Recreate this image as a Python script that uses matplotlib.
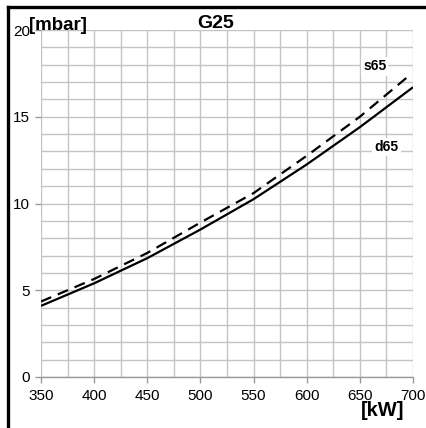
import matplotlib
matplotlib.use("Agg")
import matplotlib.pyplot as plt
from matplotlib.lines import Line2D

# -----------------------------
# Data
# -----------------------------

power_d65 = [350, 400, 450, 500, 550, 600, 650, 700]
pressure_d65 = [4.1, 5.4, 6.85, 8.5, 10.25, 12.25, 14.4, 16.7]

power_s65 = [350, 400, 450, 500, 550, 600, 650, 695]
pressure_s65 = [4.35, 5.65, 7.15, 8.9, 10.6, 12.75, 15.0, 17.3]

x_ticks = [350, 400, 450, 500, 550, 600, 650, 700]
y_ticks = [0, 5, 10, 15, 20]

# -----------------------------
# Style
# -----------------------------

plt.rcParams.update({
    "font.family": ["Liberation Sans", "DejaVu Sans"],
    "font.size": 11,
})

fig = plt.figure(figsize=(4.27, 4.28), dpi=100)
ax = fig.add_axes([41 / 427, 51 / 428, 372 / 427, 347 / 428])

# grid
ax.set_xlim(350, 700)
ax.set_ylim(0, 20)
ax.set_xticks(x_ticks)
ax.set_yticks(y_ticks)
ax.set_xticks(range(350, 701, 25), minor=True)
ax.set_yticks(range(0, 21), minor=True)
ax.grid(True, which="both", color="#c4c4c4", linewidth=1.0)
ax.set_axisbelow(True)
ax.tick_params(which="minor", length=0)
ax.tick_params(which="major", length=4, color="#999999", width=1.0,
               labelsize=11, pad=5)
ax.tick_params(axis="y", pad=4)

for side in ["top", "right", "left"]:
    ax.spines[side].set_visible(False)
ax.spines["bottom"].set_color("#999999")
ax.spines["bottom"].set_linewidth(1.0)

# -----------------------------
# Curves
# -----------------------------

ax.plot(power_d65, pressure_d65, color="black", linewidth=1.6,
        solid_capstyle="butt")
ax.plot(power_s65, pressure_s65, color="black", linewidth=1.6,
        linestyle=(0, (5, 3.2)))

ax.text(664, 17.9, "s65", ha="center", va="center", fontsize=10,
        fontweight="bold", bbox=dict(facecolor="white", edgecolor="none", pad=1.5))
ax.text(675, 13.25, "d65", ha="center", va="center", fontsize=10,
        fontweight="bold", bbox=dict(facecolor="white", edgecolor="none", pad=1.5))

# -----------------------------
# Titles and units
# -----------------------------

fig.text(216 / 427, 1 - 24 / 428, "G25", ha="center", va="center",
         fontsize=14, fontweight="bold")
fig.text(29 / 427, 1 - 25 / 428, "[mbar]", ha="left", va="center",
         fontsize=13.5, fontweight="bold")
fig.text(383 / 427, 1 - 410 / 428, "[kW]", ha="center", va="center",
         fontsize=14.5, fontweight="bold")

# frame lines (top and left)
fig.add_artist(Line2D([8 / 427, 1.0], [1 - 7 / 428, 1 - 7 / 428],
                      transform=fig.transFigure, color="black", linewidth=2.4))
fig.add_artist(Line2D([8 / 427, 8 / 427], [0.0, 1 - 7 / 428],
                      transform=fig.transFigure, color="black", linewidth=2.4))

fig.savefig("out.png", dpi=100)
plt.close(fig)
